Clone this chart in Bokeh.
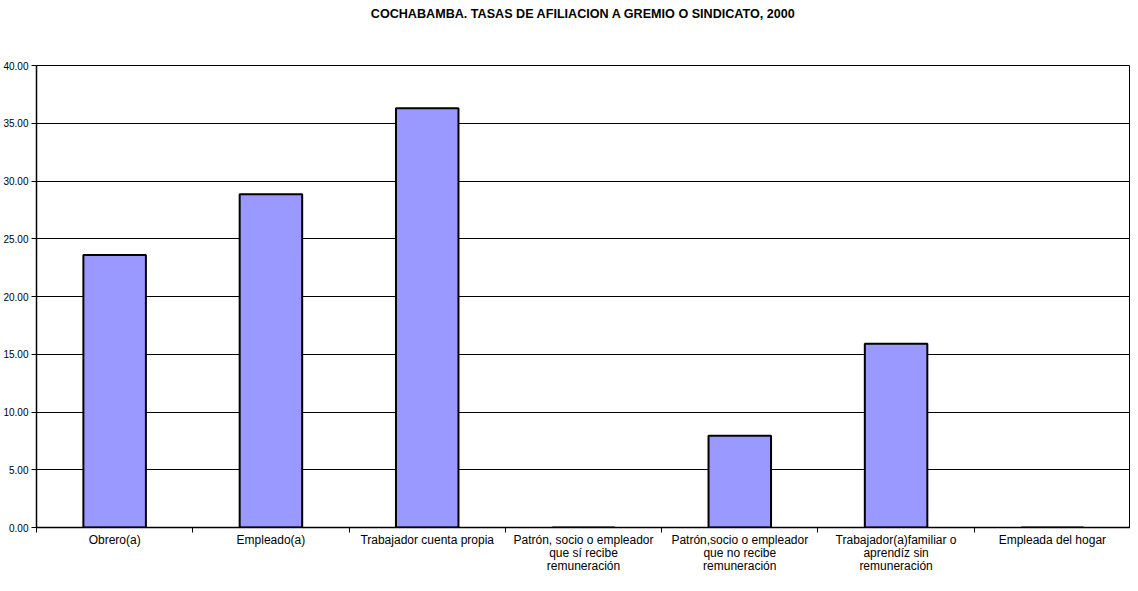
from bokeh.plotting import figure
from bokeh.models import FixedTicker, NumeralTickFormatter, Range1d, Title, LinearAxis
from bokeh.embed import file_html
from bokeh.resources import INLINE

title_text = "COCHABAMBA. TASAS DE AFILIACION A GREMIO O SINDICATO, 2000"
categories = [
    "Obrero(a)",
    "Empleado(a)",
    "Trabajador cuenta propia",
    "Patrón, socio o empleador\nque sí recibe\nremuneración",
    "Patrón,socio o empleador\nque no recibe\nremuneración",
    "Trabajador(a)familiar o\naprendíz sin\nremuneración",
    "Empleada del hogar",
]
values = [23.6, 28.85, 36.3, 0.0, 7.95, 15.9, 0.0]
y_ticks = [0, 5, 10, 15, 20, 25, 30, 35, 40]

n = len(categories)
centers = [i + 0.5 for i in range(n)]
bounds = list(range(n + 1))

p = figure(width=1130, height=575, output_backend="svg", toolbar_location=None,
           x_range=Range1d(0, n), y_range=Range1d(0, 40), x_axis_type=None,
           min_border_right=0, min_border_top=0, min_border_bottom=0, min_border_left=0)

# stacked panels above the frame (first added is nearest the frame)
p.add_layout(Title(text=" ", text_font_size="30px", standoff=10), "above")
p.add_layout(Title(text=title_text, align="center", text_font="Liberation Sans",
                   text_font_size="12.6px", text_font_style="bold",
                   text_color="#000000", standoff=0), "above")
p.add_layout(Title(text=" ", text_font_size="1.7px", standoff=0), "above")

p.vbar(x=centers, top=values, width=0.4, bottom=0,
       fill_color="#9999FF", line_color="#000000", line_width=2)

p.xgrid.visible = False
p.ygrid.ticker = FixedTicker(ticks=y_ticks)
p.ygrid.grid_line_color = "#000000"
p.ygrid.grid_line_width = 1

p.outline_line_color = "#000000"
p.outline_line_width = 1
p.background_fill_color = "white"
p.border_fill_color = "white"

# category labels: one axis per text line, stacked below the frame
split = [c.split("\n") for c in categories]
n_lines = max(len(s) for s in split)
for k in range(n_lines):
    overrides = {c: (s[k] if k < len(s) else "") for c, s in zip(centers, split)}
    if k == 0:
        ax = LinearAxis(ticker=FixedTicker(ticks=centers, minor_ticks=bounds))
        ax.minor_tick_out = 5
        ax.minor_tick_in = 0
        ax.minor_tick_line_color = "#000000"
        ax.axis_line_color = "#000000"
        ax.axis_line_width = 1.5
        ax.major_label_standoff = 0
    else:
        ax = LinearAxis(ticker=FixedTicker(ticks=centers, minor_ticks=[]))
        ax.minor_tick_out = 0
        ax.axis_line_color = None
        ax.minor_tick_line_color = None
        ax.major_label_standoff = -4
    ax.major_label_overrides = overrides
    ax.major_tick_out = 0
    ax.major_tick_in = 0
    ax.major_tick_line_color = None
    ax.major_label_text_font = "Liberation Sans"
    ax.major_label_text_font_size = "12px"
    ax.major_label_text_color = "#000000"
    p.add_layout(ax, "below")

ya = p.yaxis[0]
ya.ticker = FixedTicker(ticks=y_ticks, minor_ticks=[])
ya.formatter = NumeralTickFormatter(format="0.00")
ya.major_tick_out = 5
ya.major_tick_in = 0
ya.minor_tick_out = 0
ya.major_tick_line_color = "#000000"
ya.axis_line_color = "#000000"
ya.axis_line_width = 1.5
ya.major_label_text_font = "Liberation Sans"
ya.major_label_text_font_size = "10px"
ya.major_label_text_color = "#000000"
ya.major_label_standoff = 3

open("out.html", "w").write(file_html(p, INLINE))
